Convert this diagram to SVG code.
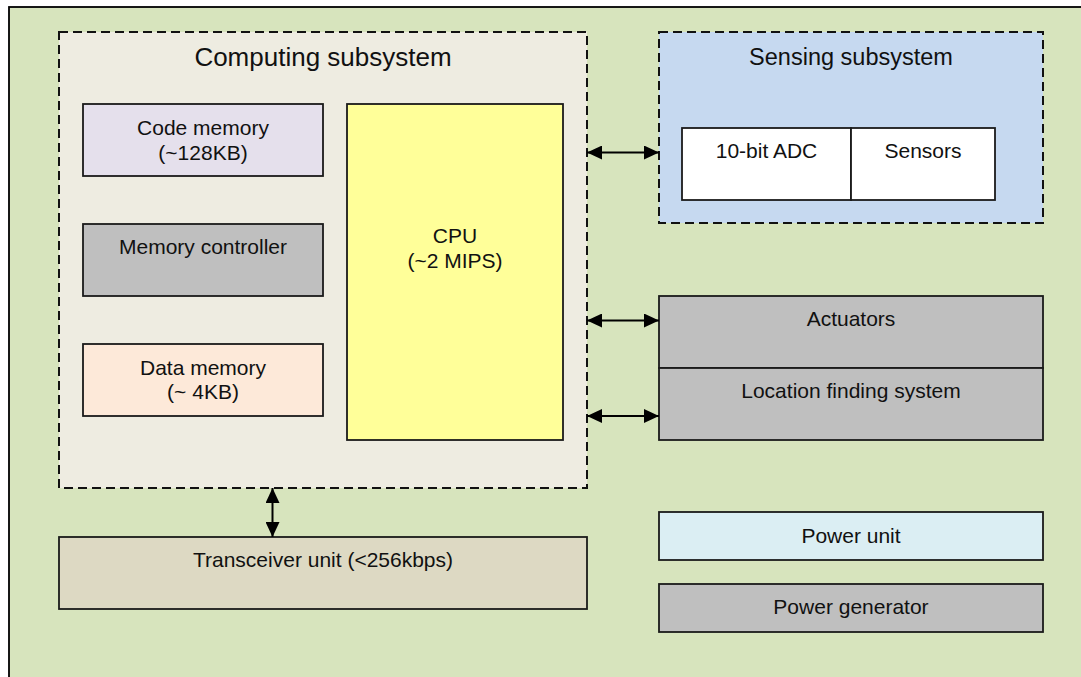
<svg xmlns="http://www.w3.org/2000/svg" width="1081" height="677" viewBox="0 0 1081 677">
<style>
text{font-family:"Liberation Sans",Arial,sans-serif;font-size:21px;fill:#111;text-anchor:middle}
.box{stroke:#1a1a1a;stroke-width:1.8}
.dash{stroke:#111;stroke-width:2;stroke-dasharray:9 5}
.conn{stroke:#000;stroke-width:2;fill:none;marker-start:url(#ah);marker-end:url(#ah)}
</style>
<defs>
<marker id="ah" markerUnits="userSpaceOnUse" markerWidth="15" markerHeight="14" refX="15" refY="7" orient="auto-start-reverse">
<path d="M0,0 L15,7 L0,14 z" fill="#000"/>
</marker>
</defs>
<rect id="background" x="9" y="7" width="1080" height="680" fill="#d7e4bd" stroke="#000" stroke-width="1.8"/>
<g id="computing">
<rect x="59" y="32" width="528" height="456" fill="#eeece1" class="dash"/>
<text x="323" y="66" style="font-size:26px">Computing subsystem</text>
</g>
<g id="code-memory">
<rect x="83" y="104" width="240" height="72" fill="#e5e0ec" class="box"/>
<text x="203" y="135">Code memory</text>
<text x="203" y="160">(~128KB)</text>
</g>
<g id="memory-controller">
<rect x="83" y="224" width="240" height="72" fill="#bfbfbf" class="box"/>
<text x="203" y="254">Memory controller</text>
</g>
<g id="data-memory">
<rect x="83" y="344" width="240" height="72" fill="#fde9d9" class="box"/>
<text x="203" y="375">Data memory</text>
<text x="203" y="399">(~ 4KB)</text>
</g>
<g id="cpu">
<rect x="347" y="104" width="216" height="336" fill="#ffff99" class="box"/>
<text x="455" y="243">CPU</text>
<text x="455" y="268">(~2 MIPS)</text>
</g>
<g id="sensing">
<rect x="659" y="32" width="384" height="191" fill="#c6d9f0" class="dash"/>
<text x="851" y="65" style="font-size:23.5px">Sensing subsystem</text>
</g>
<g id="adc">
<rect x="682" y="128" width="169" height="72" fill="#fff" class="box"/>
<text x="766.5" y="158">10-bit ADC</text>
</g>
<g id="sensors">
<rect x="851" y="128" width="144" height="72" fill="#fff" class="box"/>
<text x="923" y="158">Sensors</text>
</g>
<g id="actuators">
<rect x="659" y="296" width="384" height="72" fill="#bfbfbf" class="box"/>
<text x="851" y="326">Actuators</text>
</g>
<g id="location">
<rect x="659" y="368" width="384" height="72" fill="#bfbfbf" class="box"/>
<text x="851" y="398">Location finding system</text>
</g>
<g id="transceiver">
<rect x="59" y="537" width="528" height="72" fill="#ddd9c3" class="box"/>
<text x="323" y="567">Transceiver unit (&lt;256kbps)</text>
</g>
<g id="power-unit">
<rect x="659" y="512" width="384" height="48" fill="#dbeef3" class="box"/>
<text x="851" y="543">Power unit</text>
</g>
<g id="power-generator">
<rect x="659" y="584" width="384" height="48" fill="#bfbfbf" class="box"/>
<text x="851" y="614">Power generator</text>
</g>
<g id="connectors">
<line x1="587" y1="152.5" x2="659" y2="152.5" class="conn"/>
<line x1="587" y1="320.5" x2="659" y2="320.5" class="conn"/>
<line x1="587" y1="416" x2="659" y2="416" class="conn"/>
<line x1="272.5" y1="488" x2="272.5" y2="537" class="conn"/>
</g>
</svg>
